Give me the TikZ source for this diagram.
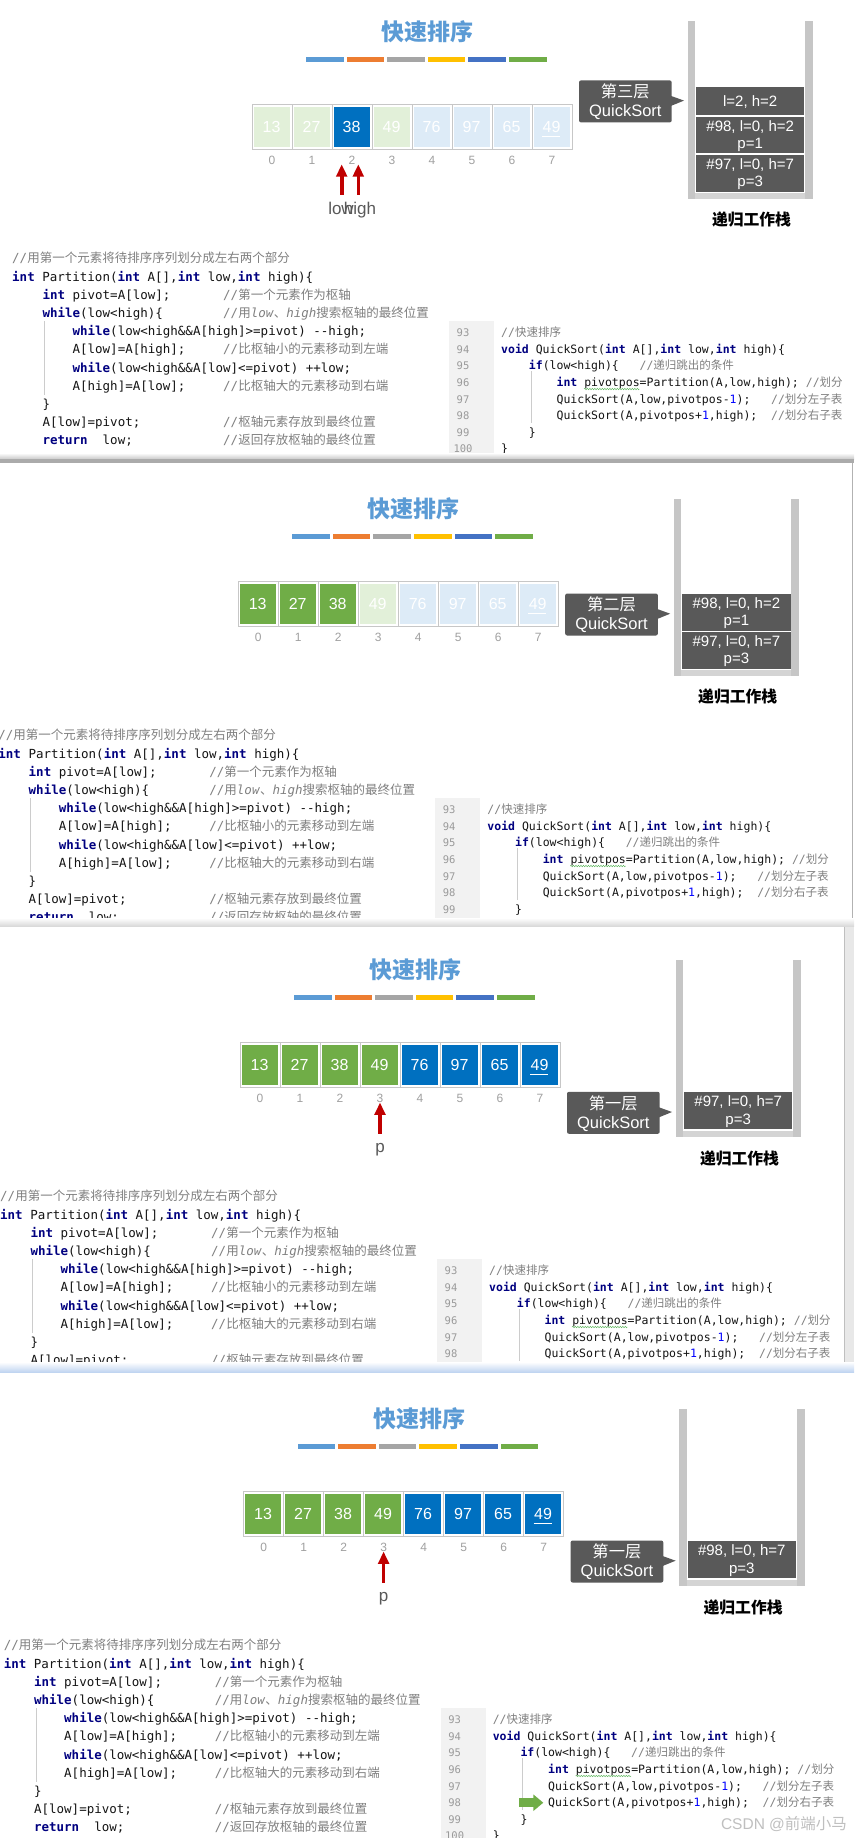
\documentclass[tikz,border=0pt]{standalone}
\usepackage{fontspec}
\setmainfont{Liberation Sans}
\newfontfamily\cjk{Noto Sans CJK SC}
\newfontfamily\codef{DejaVu Sans Mono}
\usetikzlibrary{arrows.meta,decorations.pathmorphing}
\definecolor{titleblue}{HTML}{5B9BD5}
\definecolor{barA}{HTML}{5B9BD5}
\definecolor{barB}{HTML}{ED7D31}
\definecolor{barC}{HTML}{A5A5A5}
\definecolor{barD}{HTML}{FFC000}
\definecolor{barE}{HTML}{4472C4}
\definecolor{barF}{HTML}{70AD47}
\definecolor{cg}{HTML}{70AD47}
\definecolor{cb}{HTML}{0070C0}
\definecolor{clg}{HTML}{E2F0D9}
\definecolor{clb}{HTML}{DDEBF7}
\definecolor{darkbox}{HTML}{595959}
\definecolor{wallgray}{HTML}{C6C6C6}
\definecolor{floorgray}{HTML}{D4D4D4}
\definecolor{arrowred}{HTML}{C00000}
\definecolor{kwc}{HTML}{000080}
\definecolor{cmc}{HTML}{808080}
\definecolor{lnumc}{HTML}{9A9A9A}
\definecolor{gutterc}{HTML}{F2F2F2}
\definecolor{idxc}{HTML}{A0A0A0}
\definecolor{numblue}{HTML}{0000FF}
\definecolor{ptrc}{HTML}{595959}
\newcommand\kw[1]{{\color{kwc}\bfseries #1}}
\newcommand\cmt[1]{{\color{cmc}#1}}
\newcommand\cj[1]{{\cjk #1}}
\newcommand\numb[1]{{\color{numblue}#1}}
\tikzset{
  codeL/.style={anchor=base west, inner sep=0pt, font=\codef\fontsize{12.5}{15}\selectfont, text=black!92},
  codeR/.style={anchor=base west, inner sep=0pt, font=\codef\fontsize{11.5}{14}\selectfont, text=black!92},
  lnum/.style={anchor=base, inner sep=0pt, font=\codef\fontsize{10.5}{13}\selectfont, text=lnumc},
  cellframe/.style={draw=black!22, line width=0.8pt},
  cellbox/.style={minimum width=36pt, minimum height=39.4pt, inner sep=0pt, text=white, font=\fontsize{16}{18}\selectfont},
  idxlab/.style={inner sep=0pt, text=idxc, font=\fontsize{12}{14}\selectfont},
  sbox/.style={fill=darkbox, minimum width=108.3pt, inner sep=0pt},
  stext/.style={inner sep=0pt, text=white, font=\fontsize{15}{17}\selectfont},
  calltext/.style={inner sep=0pt, text=white, font=\fontsize{16.5}{19}\selectfont},
  guide/.style={draw=black!20, line width=0.6pt},
  redarrow/.style={draw=arrowred, line width=3.6pt, -{Triangle[length=12.4pt,width=10.7pt]}},
  ptrtext/.style={anchor=base, inner sep=0pt, text=ptrc, font=\fontsize{17}{19}\selectfont},
}
\newcommand\panelbase[1]{%
  \node[font=\cjk\bfseries\fontsize{23}{26}\selectfont, text=titleblue, inner sep=0pt] (#1-title) at (427.6,31.7) {快速排序};
  \foreach \c [count=\i from 0] in {barA,barB,barC,barD,barE,barF}
    \fill[\c] ({306+40.6*\i},57.3) rectangle ++(37.5,5);
  \fill[wallgray] (687.5,21.5) rectangle (695,199.3);
  \fill[wallgray] (805,21.5) rectangle (813,199.3);
  \fill[floorgray] (695,192.6) rectangle (805,199.3);
  \node[font=\cjk\bfseries\fontsize{15.8}{18}\selectfont, inner sep=0pt] (#1-stack) at (751.5,220) {递归工作栈};
}
\newcommand\cells[2]{%
  \foreach \col/\num [count=\i from 0] in {#2} {
    \draw[cellframe] ({252+40*\i},104.3) rectangle ++(40,45);
    \node[cellbox, fill=\col] (#1-c\i) at ({271.5+40*\i},127) {\num};
    \node[idxlab] (#1-i\i) at ({272+40*\i},160) {\i};
  }
  \draw[white, line width=1.1pt] (542,136.7) -- (560,136.7);
}
\newcommand\callout[3]{%
  \fill[darkbox, rounded corners=2pt] (579,{#2-21}) rectangle (671.7,{#2+21});
  \fill[darkbox] (671,{#2-5.5}) -- (684,{#2-0.8}) -- (671,{#2+4.5}) -- cycle;
  \node[calltext, font=\cjk\fontsize{16.3}{19}\selectfont] (#1-cl1) at (625.3,{#2-9.7}) {#3};
  \node[calltext] (#1-cl2) at (625.3,{#2+10.9}) {QuickSort};
}
\newcommand\sentryA[4]{%
  \node[sbox, minimum height={#3-#2}] (#1) at (750.2,{(#2+#3)/2}) {};
  \node[stext] (#1-t1) at (750.2,{(#2+#3)/2+1}) {#4};
}
\newcommand\sentryB[5]{%
  \node[sbox, minimum height={#3-#2}] (#1) at (750.2,{(#2+#3)/2}) {};
  \node[stext] (#1-t1) at (750.2,{#2+10}) {#4};
  \node[stext] (#1-t2) at (750.2,{#2+28.3}) {#5};
}
\newcommand\codeblocks[1]{%
  \fill[gutterc] (449,321) rectangle (494,470);
  \draw[guide] (44.5,321) -- (44.5,395);
  \draw[guide] (531,371) -- (531,423);
  \node[codeL] (#1-L0) at (12,262.8) {\cmt{//\cj{用第一个元素将待排序序列划分成左右两个部分}}};
  \node[codeL] (#1-L1) at (12,281) {\kw{int} Partition(\kw{int} A[],\kw{int} low,\kw{int} high)\{};
  \node[codeL] (#1-L2) at (42.3,299.2) {\kw{int} pivot=A[low];};
  \node[codeL] (#1-C2) at (223,299.2) {\cmt{//\cj{第一个元素作为枢轴}}};
  \node[codeL] (#1-L3) at (42.3,317.4) {\kw{while}(low<high)\{};
  \node[codeL] (#1-C3) at (223,317.4) {\cmt{//\cj{用}\textit{low}\cj{、}\textit{high}\cj{搜索枢轴的最终位置}}};
  \node[codeL] (#1-L4) at (72.4,335.6) {\kw{while}(low<high\&\&A[high]>=pivot) -{}-high;};
  \node[codeL] (#1-L5) at (72.4,353.8) {A[low]=A[high];};
  \node[codeL] (#1-C5) at (223,353.8) {\cmt{//\cj{比枢轴小的元素移动到左端}}};
  \node[codeL] (#1-L6) at (72.4,372) {\kw{while}(low<high\&\&A[low]<=pivot) ++low;};
  \node[codeL] (#1-L7) at (72.4,390.2) {A[high]=A[low];};
  \node[codeL] (#1-C7) at (223,390.2) {\cmt{//\cj{比枢轴大的元素移动到右端}}};
  \node[codeL] (#1-L8) at (42.3,408.4) {\}};
  \node[codeL] (#1-L9) at (42.3,426.6) {A[low]=pivot;};
  \node[codeL] (#1-C9) at (223,426.6) {\cmt{//\cj{枢轴元素存放到最终位置}}};
  \node[codeL] (#1-L10) at (42.3,444.8) {\kw{return}~~low;};
  \node[codeL] (#1-C10) at (223,444.8) {\cmt{//\cj{返回存放枢轴的最终位置}}};
  \node[lnum] (#1-n93) at (463,336.4) {93};
  \node[lnum] (#1-n94) at (463,353.05) {94};
  \node[lnum] (#1-n95) at (463,369.7) {95};
  \node[lnum] (#1-n96) at (463,386.35) {96};
  \node[lnum] (#1-n97) at (463,403) {97};
  \node[lnum] (#1-n98) at (463,419.65) {98};
  \node[lnum] (#1-n99) at (463,436.3) {99};
  \node[codeR] (#1-R0) at (501,336.4) {\cmt{//\cj{快速排序}}};
  \node[codeR] (#1-R1) at (501,353.05) {\kw{void} QuickSort(\kw{int} A[],\kw{int} low,\kw{int} high)\{};
  \node[codeR] (#1-R2) at (528.7,369.7) {\kw{if}(low<high)\{};
  \node[codeR] (#1-D2) at (639.4,369.7) {\cmt{//\cj{递归跳出的条件}}};
  \node[codeR] (#1-R3) at (556.4,386.35) {\kw{int} pivotpos=Partition(A,low,high);~\cmt{//\cj{划分}}};
  \node[codeR] (#1-R4) at (556.4,403) {QuickSort(A,low,pivotpos-\numb{1});};
  \node[codeR] (#1-D4) at (770.9,403) {\cmt{//\cj{划分左子表}}};
  \node[codeR] (#1-R5) at (556.4,419.65) {QuickSort(A,pivotpos+\numb{1},high);};
  \node[codeR] (#1-D5) at (770.9,419.65) {\cmt{//\cj{划分右子表}}};
  \node[codeR] (#1-R6) at (528.7,436.3) {\}};
  \draw[decorate, decoration={snake, amplitude=0.7pt, segment length=2.5pt}, draw=green!55!black!60, line width=0.5pt] (584,389) -- (639.4,389);
}
% last line of the right block (line 100)
\newcommand\lastline[1]{%
  \node[lnum] (#1-n100) at (463,452.95) {100};
  \node[codeR] (#1-R7) at (501,452.95) {\}};
}
\begin{document}
\begin{tikzpicture}[x=1pt,y=-1pt]
\useasboundingbox (0,0) rectangle (854,1838);
\fill[white] (0,0) rectangle (854,1838);
% ---------------- Panel 1
\begin{scope}
\clip (0,0) rectangle (854,459.3);
\panelbase{a}
\cells{a}{clg/13,clg/27,cb/38,clg/49,clb/76,clb/97,clb/65,clb/49}
\callout{a}{101.4}{第三层}
\sentryA{a-s1}{87.3}{115}{l=2, h=2}
\sentryB{a-s2}{116.7}{153.3}{\#98, l=0, h=2}{p=1}
\sentryB{a-s3}{155}{191.7}{\#97, l=0, h=7}{p=3}
\coordinate (a-lowtail) at (341.7,195);
\coordinate (a-lowtip) at (341.7,164.3);
\coordinate (a-hightail) at (358.3,195);
\coordinate (a-hightip) at (358.3,164.3);
\draw[redarrow] (a-lowtail) -- (a-lowtip);
\draw[redarrow] (a-hightail) -- (a-hightip);
\node[ptrtext] (a-low) at (341,214.5) {low};
\node[ptrtext] (a-high) at (360,214.5) {high};
\codeblocks{a}
\lastline{a}
\node[codeL] (a-L11) at (12,463) {\}};
\end{scope}
% ---------------- Panel 2
\begin{scope}
\clip (0,463.3) rectangle (852,925);
\begin{scope}[shift={(-13.8,477)}]
\panelbase{b}
\cells{b}{cg/13,cg/27,cg/38,clg/49,clb/76,clb/97,clb/65,clb/49}
\callout{b}{137.5}{第二层}
\sentryB{b-s1}{117}{153.7}{\#98, l=0, h=2}{p=1}
\sentryB{b-s2}{155}{191.7}{\#97, l=0, h=7}{p=3}
\codeblocks{b}
\lastline{b}
\end{scope}
\end{scope}
% ---------------- Panel 3
\begin{scope}
\clip (0,926.7) rectangle (844,1371.7);
\begin{scope}[shift={(-12,938)}]
\panelbase{c}
\cells{c}{cg/13,cg/27,cg/38,cg/49,cb/76,cb/97,cb/65,cb/49}
\callout{c}{174.8}{第一层}
\sentryB{c-s1}{154.3}{191}{\#97, l=0, h=7}{p=3}
\coordinate (c-ptail) at (392,195.5);
\coordinate (c-ptip) at (392,164.5);
\draw[redarrow] (c-ptail) -- (c-ptip);
\node[ptrtext] (c-p) at (392,214.5) {p};
\codeblocks{c}
\end{scope}
\end{scope}
% ---------------- Panel 4
\begin{scope}
\clip (0,1372.7) rectangle (854,1838);
\begin{scope}[shift={(-8.4,1387)}]
\panelbase{d}
\cells{d}{cg/13,cg/27,cg/38,cg/49,cb/76,cb/97,cb/65,cb/49}
\callout{d}{174.5}{第一层}
\sentryB{d-s1}{154}{191}{\#98, l=0, h=7}{p=3}
\coordinate (d-ptail) at (392,195.5);
\coordinate (d-ptip) at (392,164.5);
\draw[redarrow] (d-ptail) -- (d-ptip);
\node[ptrtext] (d-p) at (392,214.5) {p};
\codeblocks{d}
\lastline{d}
\coordinate (d-gtail) at (527.7,415.7);
\coordinate (d-gtip) at (551.7,415.7);
\draw[draw=cg, line width=9pt, -{Triangle[length=10pt,width=16pt]}] (d-gtail) -- (d-gtip);
\end{scope}
\end{scope}
% ---------------- panel boundaries
\shade[top color=white, bottom color=black!22] (0,453) rectangle (854,459.3);
\fill[black!33] (0,459.3) rectangle (854,463.3);
\draw[black!30, line width=1pt] (852.5,463.3) -- (852.5,925);
\shade[top color=white, bottom color=black!16] (0,918) rectangle (854,926.7);
\fill[black!9] (844,926.7) rectangle (854,1371.7);
\draw[black!25, line width=0.8pt] (844,926.7) -- (844,1371.7);
\shade[top color=white, bottom color={rgb,255:red,188;green,210;blue,240}] (0,1362) rectangle (854,1372.7);
\node[inner sep=0pt, text=black!25, font=\fontsize{15.5}{18}\selectfont] (wm) at (784,1824) {CSDN @\cj{前端小马}};
\end{tikzpicture}
\end{document}
